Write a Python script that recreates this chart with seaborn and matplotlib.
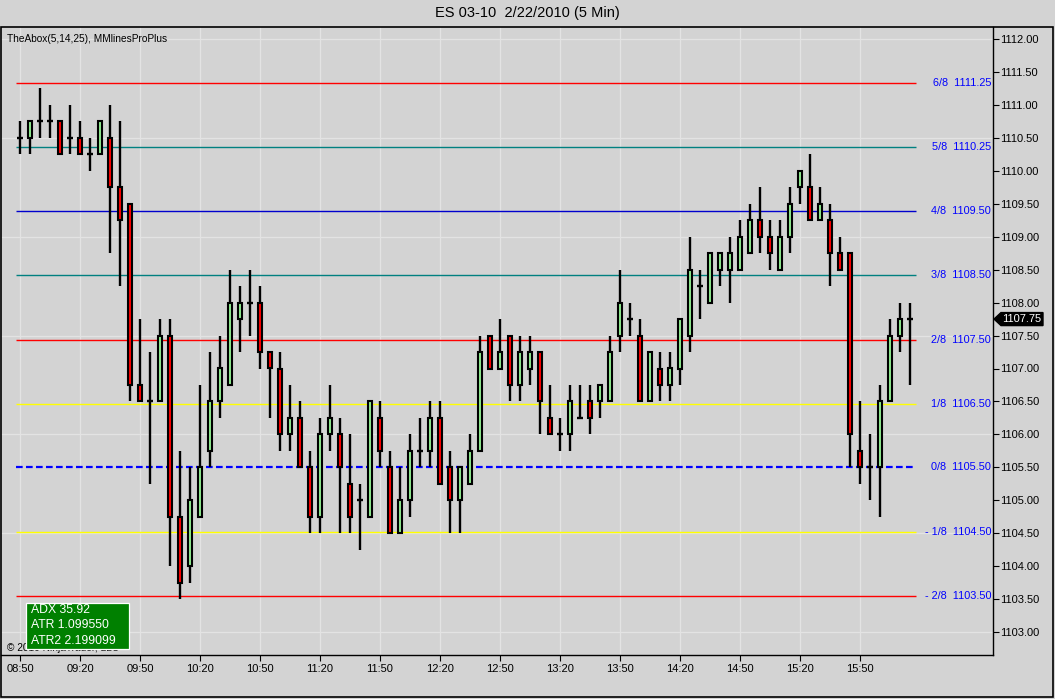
import numpy as np
import pandas as pd
import matplotlib
matplotlib.use("Agg")
import matplotlib.pyplot as plt
import seaborn as sns
from matplotlib.patches import Rectangle, Polygon
from matplotlib.transforms import IdentityTransform

# ---------------- data ----------------
times = pd.date_range("2010-02-22 08:50", periods=90, freq="5min").strftime("%H:%M").tolist()

opens = [1110.5, 1110.5, 1110.75, 1110.75, 1110.75, 1110.5, 1110.5, 1110.25, 1110.25, 1110.5,
         1109.75, 1109.5, 1106.75, 1106.5, 1106.5, 1107.5, 1104.75, 1104.0, 1104.75, 1105.75,
         1106.5, 1106.75, 1107.75, 1108.0, 1108.0, 1107.25, 1107.0, 1106.0, 1106.25, 1105.5,
         1104.75, 1106.0, 1106.0, 1105.25, 1105.0, 1104.75, 1106.25, 1105.5, 1104.5, 1105.0,
         1105.75, 1105.75, 1106.25, 1105.5, 1105.0, 1105.25, 1105.75, 1107.5, 1107.0, 1107.5,
         1106.75, 1107.0, 1107.25, 1106.25, 1106.0, 1106.0, 1106.25, 1106.5, 1106.5, 1106.5,
         1107.5, 1107.75, 1107.5, 1106.5, 1107.0, 1106.75, 1107.0, 1107.5, 1108.25, 1108.0,
         1108.5, 1108.5, 1108.5, 1108.75, 1109.25, 1109.0, 1108.5, 1109.0, 1109.75, 1109.75,
         1109.25, 1109.25, 1108.75, 1108.75, 1105.75, 1105.5, 1105.5, 1106.5, 1107.5, 1107.75]
highs = [1110.75, 1110.75, 1111.25, 1111.0, 1110.75, 1111.0, 1110.75, 1110.5, 1110.75, 1111.0,
         1110.75, 1109.5, 1107.75, 1107.25, 1107.75, 1107.75, 1105.75, 1105.5, 1106.75, 1107.25,
         1107.5, 1108.5, 1108.25, 1108.5, 1108.25, 1107.25, 1107.25, 1106.75, 1106.5, 1105.75,
         1106.25, 1106.75, 1106.25, 1106.0, 1105.25, 1106.5, 1106.5, 1105.75, 1105.5, 1106.0,
         1106.25, 1106.5, 1106.5, 1105.75, 1105.5, 1106.0, 1107.5, 1107.5, 1107.75, 1107.5,
         1107.5, 1107.5, 1107.25, 1106.75, 1106.25, 1106.75, 1106.75, 1106.75, 1106.75, 1107.5,
         1108.5, 1108.0, 1107.75, 1107.25, 1107.25, 1107.25, 1107.75, 1109.0, 1108.5, 1108.75,
         1108.75, 1109.0, 1109.25, 1109.5, 1109.75, 1109.25, 1109.25, 1109.75, 1110.0, 1110.25,
         1109.75, 1109.5, 1109.0, 1108.75, 1106.5, 1106.0, 1106.75, 1107.75, 1108.0, 1108.0]
lows = [1110.25, 1110.25, 1110.5, 1110.5, 1110.25, 1110.25, 1110.25, 1110.0, 1110.25, 1108.75,
        1108.25, 1106.5, 1106.5, 1105.25, 1106.5, 1104.0, 1103.5, 1103.75, 1104.75, 1105.5,
        1106.25, 1106.75, 1107.25, 1107.5, 1107.0, 1106.25, 1105.75, 1105.75, 1105.5, 1104.5,
        1104.5, 1105.75, 1104.5, 1104.5, 1104.25, 1104.75, 1105.5, 1104.5, 1104.5, 1104.75,
        1105.5, 1105.5, 1105.25, 1104.5, 1104.5, 1105.25, 1105.75, 1107.0, 1107.0, 1106.5,
        1106.5, 1106.75, 1106.0, 1106.0, 1105.75, 1105.75, 1106.25, 1106.0, 1106.25, 1106.5,
        1107.25, 1107.5, 1106.5, 1106.5, 1106.5, 1106.5, 1106.75, 1107.25, 1107.75, 1108.0,
        1108.25, 1108.0, 1108.5, 1108.75, 1108.75, 1108.5, 1108.5, 1108.75, 1109.5, 1109.25,
        1109.25, 1108.25, 1108.5, 1105.5, 1105.25, 1105.0, 1104.75, 1106.5, 1107.25, 1106.75]
closes = [1110.5, 1110.75, 1110.75, 1110.75, 1110.25, 1110.5, 1110.25, 1110.25, 1110.75, 1109.75,
          1109.25, 1106.75, 1106.5, 1106.5, 1107.5, 1104.75, 1103.75, 1105.0, 1105.5, 1106.5,
          1107.0, 1108.0, 1108.0, 1108.0, 1107.25, 1107.0, 1106.0, 1106.25, 1105.5, 1104.75,
          1106.0, 1106.25, 1105.5, 1104.75, 1105.0, 1106.5, 1105.75, 1104.5, 1105.0, 1105.75,
          1105.75, 1106.25, 1105.25, 1105.0, 1105.5, 1105.75, 1107.25, 1107.0, 1107.25, 1106.75,
          1107.25, 1107.25, 1106.5, 1106.0, 1106.0, 1106.5, 1106.25, 1106.25, 1106.75, 1107.25,
          1108.0, 1107.75, 1106.5, 1107.25, 1106.75, 1107.0, 1107.75, 1108.5, 1108.25, 1108.75,
          1108.75, 1108.75, 1109.0, 1109.25, 1109.0, 1108.75, 1109.0, 1109.5, 1110.0, 1109.25,
          1109.5, 1108.75, 1108.5, 1106.0, 1105.5, 1105.5, 1106.5, 1107.5, 1107.75, 1107.75]

mm_names = ["6/8", "5/8", "4/8", "3/8", "2/8", "1/8", "0/8", "- 1/8", "- 2/8"]
mm_levels = [1111.33, 1110.36, 1109.39, 1108.42, 1107.43, 1106.46, 1105.51, 1104.52, 1103.55]
mm_labels = ["1111.25", "1110.25", "1109.50", "1108.50", "1107.50", "1106.50", "1105.50", "1104.50", "1103.50"]
mm_colors = ["#FF0000", "#008080", "#0000CD", "#008080", "#FF0000", "#FFFF00", "#0000FF", "#FFFF00", "#FF0000"]

y_ticks = np.arange(1103.0, 1112.01, 0.5)
grid_y = [1103.0, 1104.5, 1106.0, 1107.5, 1109.0, 1110.5, 1112.0]
title = "ES 03-10  2/22/2010 (5 Min)"
indicator_text = "TheAbox(5,14,25), MMlinesProPlus"
info_lines = ["ADX 35.92", "ATR 1.099550", "ATR2 2.199099"]
copyright_text = "\u00a9 2010 NinjaTrader, LLC"

# ---------------- style ----------------
BG = "#D3D3D3"
sns.set_theme(style="ticks", rc={"axes.facecolor": BG, "figure.facecolor": BG,
                                 "savefig.facecolor": BG, "axes.edgecolor": "black"})
plt.rcParams["font.family"] = ["Liberation Sans", "DejaVu Sans"]

W, H = 1055, 699
fig = plt.figure(figsize=(W / 100, H / 100), dpi=100)
ax = fig.add_axes([1 / W, 1 - 655 / H, 992 / W, 628 / H])
ax.set_facecolor(BG)

n = len(opens)
x = np.arange(n)
o = np.array(opens); h = np.array(highs); l = np.array(lows); c = np.array(closes)

ax.set_xlim(-1.9, 97.3)
ax.set_ylim(1112 - 616 / 65.9, 1112 + 12 / 65.9)

# grid
tick_idx = list(range(0, n, 6))
grid_col = "#E3E3E3"
for gx in tick_idx:
    ax.axvline(gx, color=grid_col, lw=0.9, zorder=0)
for gy in grid_y:
    ax.axhline(gy, color=grid_col, lw=0.9, zorder=0)

# MM lines
for lvl, col, name, lab in zip(mm_levels, mm_colors, mm_names, mm_labels):
    if name == "0/8":
        ax.hlines(lvl, -0.4, n - 0.4, color=col, lw=1.6, linestyles=(0, (3.0, 1.5)), zorder=1)
    else:
        ax.hlines(lvl, -0.4, n - 0.4, color=col, lw=1.0, zorder=1)
    ax.text(0.998, lvl, f"{name}  {lab}", transform=ax.get_yaxis_transform(),
            ha="right", va="center", color="#0000FF", fontsize=7.8)

# candles
ax.vlines(x, l, h, color="black", lw=1.7, zorder=2)
body_w = 0.48
up = c > o
dn = c < o
eq = c == o
ax.bar(x[up], (c - o)[up], bottom=o[up], width=body_w, color="#90EE90",
       edgecolor="black", linewidth=1.5, zorder=3)
ax.bar(x[dn], (c - o)[dn], bottom=o[dn], width=body_w, color="#FF0000",
       edgecolor="black", linewidth=1.5, zorder=3)
ax.hlines(o[eq], x[eq] - 0.32, x[eq] + 0.32, color="black", lw=1.7, zorder=3)

# axes styling
for s in ["top", "left"]:
    ax.spines[s].set_visible(False)
ax.spines["right"].set_linewidth(1.0)
ax.spines["bottom"].set_linewidth(1.0)
ax.yaxis.tick_right()
ax.set_yticks(y_ticks)
ax.set_yticklabels([f"{v:.2f}" for v in y_ticks])
ax.set_xticks(tick_idx)
ax.set_xticklabels([times[i] for i in tick_idx])
ax.tick_params(axis="y", direction="out", length=4, width=0.8, pad=1, labelsize=8, colors="black")
ax.tick_params(axis="x", direction="out", length=4, width=0.8, pad=2.5, labelsize=8, colors="black")
ax.grid(False)

# outer frame
fig.add_artist(Rectangle((1 / W, 2 / H), 1052 / W, 670 / H, transform=fig.transFigure,
                         fill=False, ec="black", lw=1.2, zorder=10))

# texts
fig.text(527 / W, 1 - 13 / H, title, ha="center", va="center", fontsize=10.5, color="black")
fig.text(7 / W, 1 - 39 / H, indicator_text, ha="left", va="center", fontsize=7.3, color="black")
fig.text(7 / W, 1 - 648 / H, copyright_text, ha="left", va="center", fontsize=7.3, color="black", zorder=4)

fig.add_artist(Rectangle((26 / W, 1 - 649 / H), 103 / W, 46 / H, transform=fig.transFigure,
                         fc="#008000", ec="white", lw=0.9, zorder=5))
for k, t in enumerate(info_lines):
    fig.text(31 / W, 1 - (610 + 15.5 * k) / H, t, ha="left", va="center", fontsize=8.8,
             color="white", zorder=6)

# last price marker
fig.canvas.draw()
yd = ax.transData.transform((0, closes[-1]))[1]
xr = ax.transAxes.transform((1, 0))[0]
pts = [(xr + 1, yd), (xr + 8, yd + 6.5), (xr + 50, yd + 6.5), (xr + 50, yd - 6.5), (xr + 8, yd - 6.5)]
fig.add_artist(Polygon(pts, closed=True, transform=IdentityTransform(), fc="black", ec="black", zorder=8))
fig.text((xr + 29) / W, yd / H, f"{closes[-1]:.2f}", ha="center", va="center",
         fontsize=8, color="white", zorder=9)

fig.savefig("out.png", dpi=100, facecolor=BG)
